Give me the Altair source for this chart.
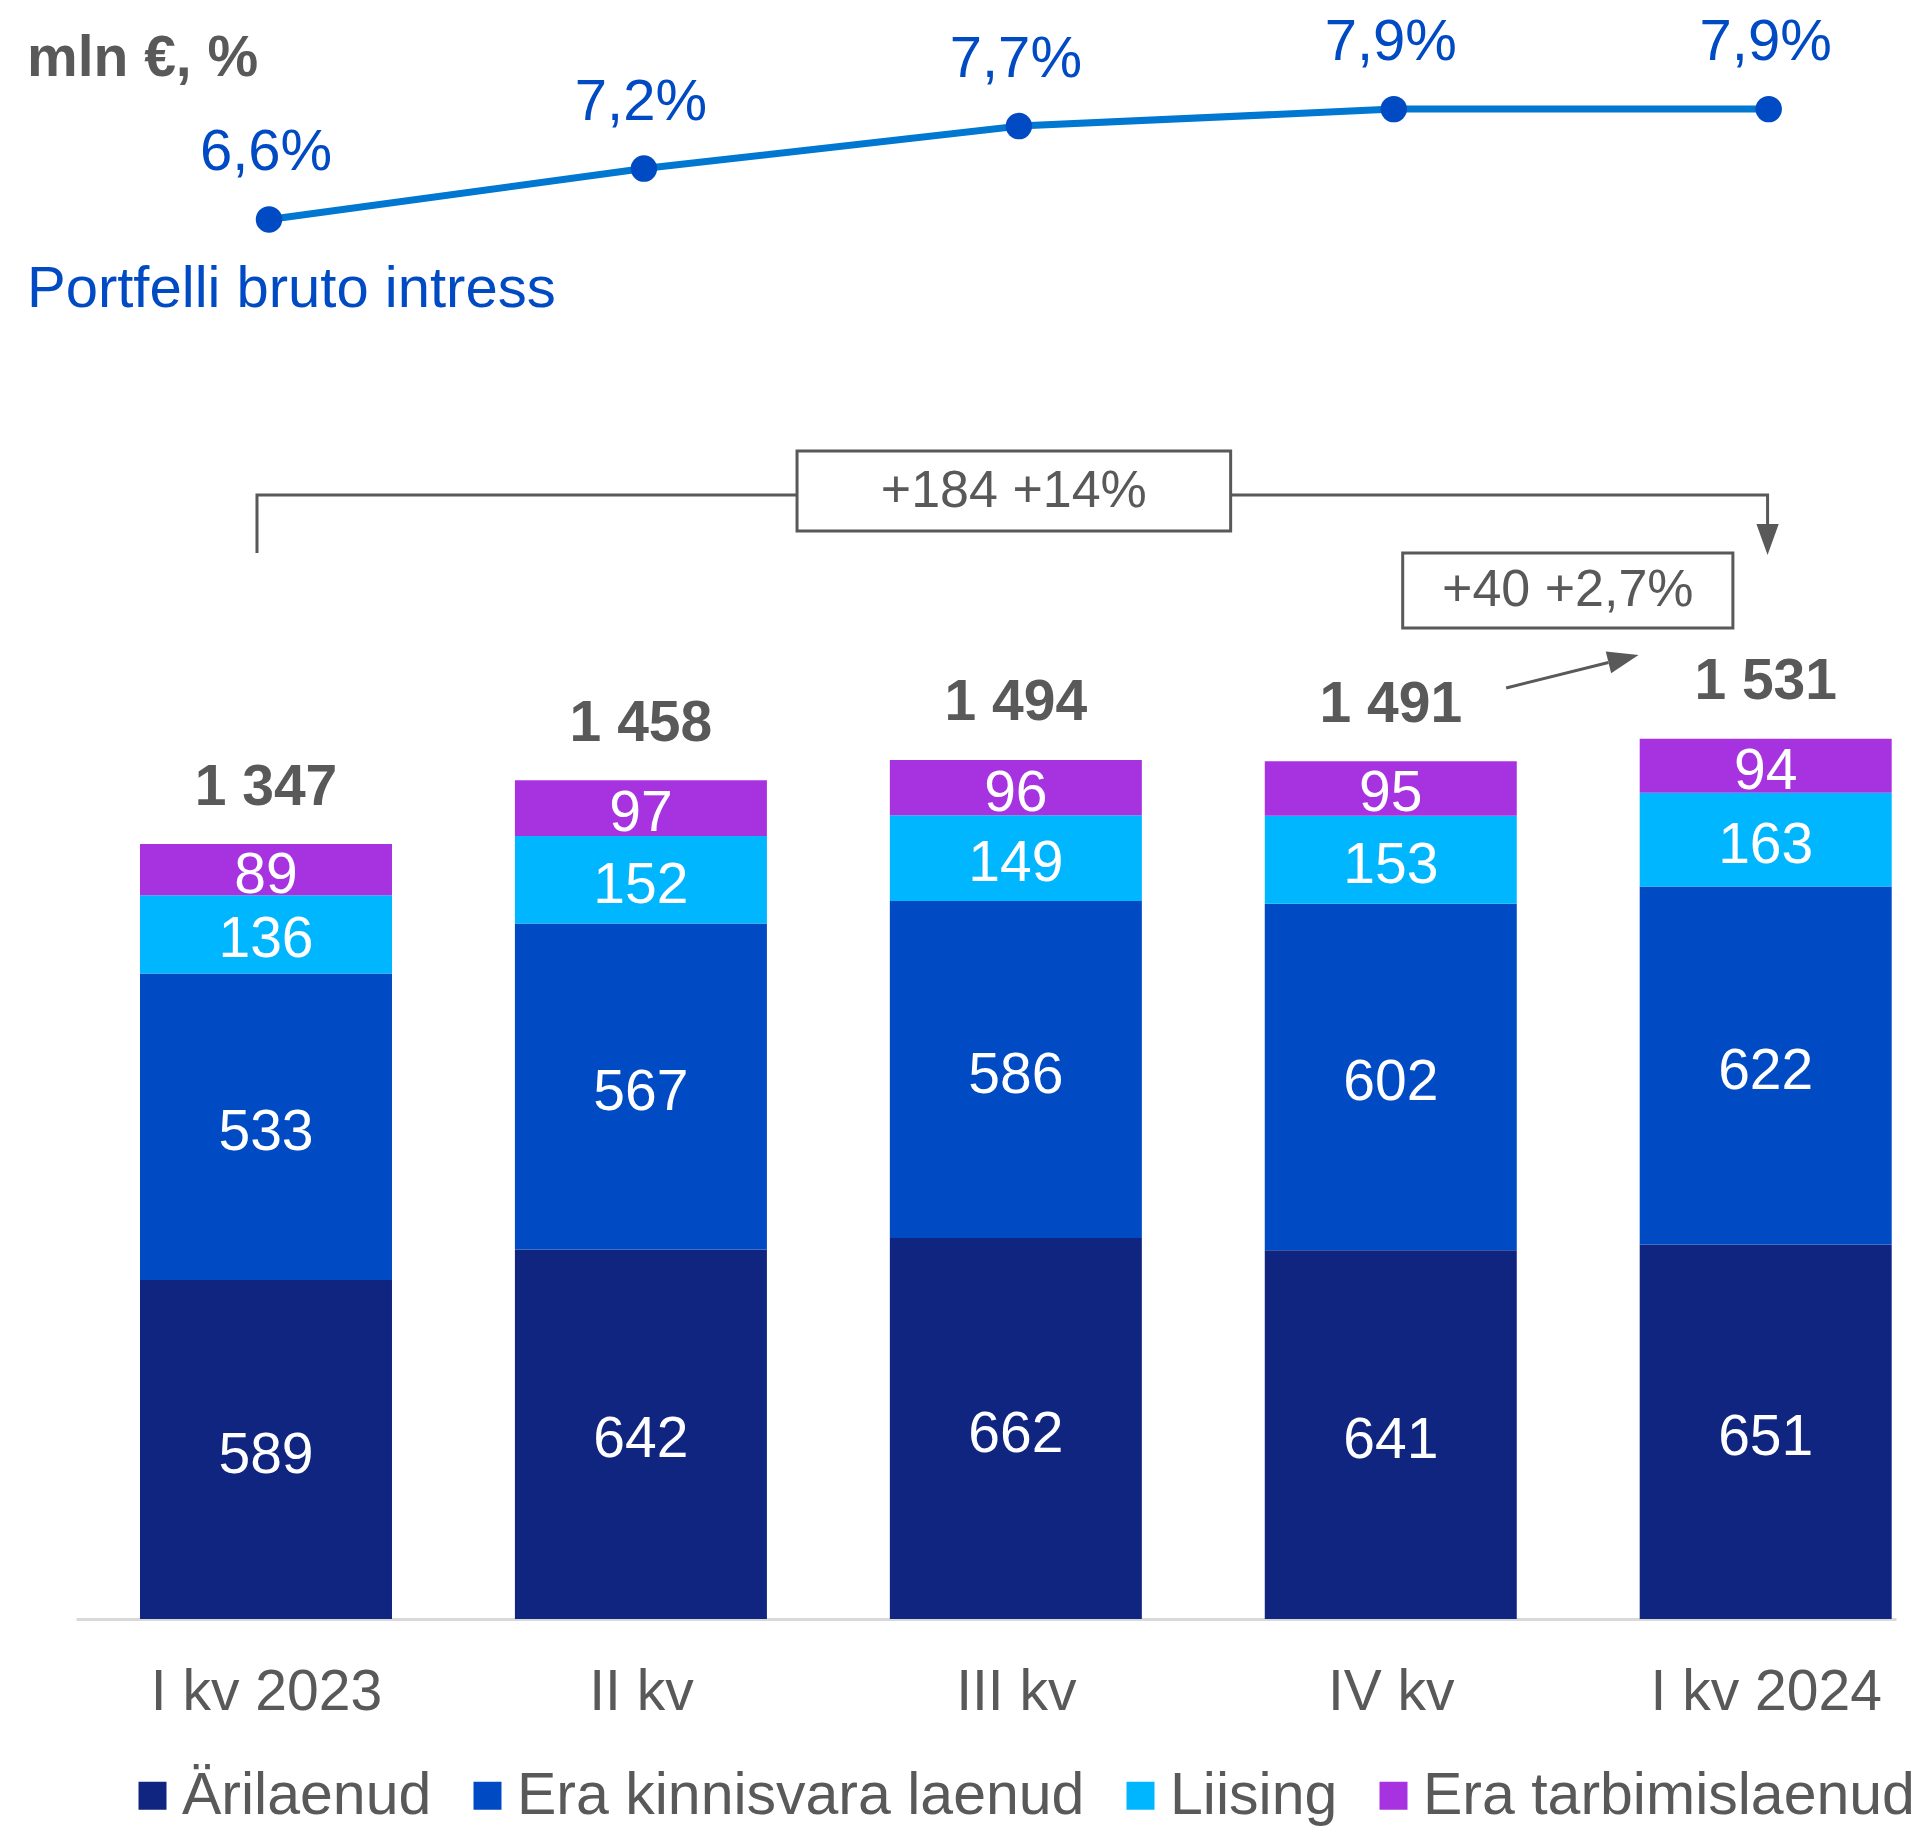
import json
import pandas as pd
import altair as alt

# ---------------- data ----------------
categories = ["I kv 2023", "II kv", "III kv", "IV kv", "I kv 2024"]
series_names = ["Ärilaenud", "Era kinnisvara laenud", "Liising", "Era tarbimislaenud"]
arilaenud = [589, 642, 662, 641, 651]
era_kinnisvara = [533, 567, 586, 602, 622]
liising = [136, 152, 149, 153, 163]
era_tarbimis = [89, 97, 96, 95, 94]
totals = [1347, 1458, 1494, 1491, 1531]
total_labels = ["1 347", "1 458", "1 494", "1 491", "1 531"]
rate = [6.6, 7.2, 7.7, 7.9, 7.9]
rate_labels = ["6,6%", "7,2%", "7,7%", "7,9%", "7,9%"]
change_labels = ["+184 +14%", "+40 +2,7%"]
unit_label = "mln €, %"
rate_series_label = "Portfelli bruto intress"

# ---------------- styles / layout ----------------
FONT = "Liberation Sans"
GRAY = "#595959"
COLORS = ["#0F2580", "#004AC4", "#00B6FF", "#A733E0"]
LINE_COLOR = "#0077D0"
DOT_COLOR = "#004AC4"
PLOT_W, PLOT_H = 1820, 1611
X_DOMAIN = [-0.4934, 4.3342]
Y_BAR_DOMAIN = [0, 2800]
Y_RATE_DOMAIN = [-9.885, 9.091]

idx = list(range(len(categories)))
series_values = [arilaenud, era_kinnisvara, liising, era_tarbimis]
rows = []
for s_i, (name, vals) in enumerate(zip(series_names, series_values)):
    for i, v in zip(idx, vals):
        rows.append({"idx": i, "category": categories[i], "series": name, "value": v, "order": s_i})
bars_df = pd.DataFrame(rows)
tot_df = pd.DataFrame({"idx": idx, "total": totals, "label": total_labels})
rate_df = pd.DataFrame({"idx": idx, "rate": rate, "label": rate_labels})

label_expr = json.dumps(categories, ensure_ascii=False) + "[datum.value]"
X = alt.X(
    "idx:Q",
    scale=alt.Scale(domain=X_DOMAIN, nice=False, zero=False),
    axis=alt.Axis(
        values=idx, labelExpr=label_expr, title=None, grid=False, ticks=False, tickSize=0,
        domainColor="#D9D9D9", domainWidth=3, labelFontSize=57, labelFont=FONT,
        labelColor=GRAY, labelPadding=45, labelBaseline="top", labelLimit=800,
        labelOverlap=False,
    ),
)
ybar_scale = alt.Scale(domain=Y_BAR_DOMAIN, nice=False, zero=True)
yrate_scale = alt.Scale(domain=Y_RATE_DOMAIN, nice=False, zero=False)

bars = alt.Chart(bars_df).mark_bar(width=252).encode(
    x=X,
    y=alt.Y("value:Q", stack="zero", scale=ybar_scale, axis=None),
    color=alt.Color(
        "series:N",
        scale=alt.Scale(domain=series_names, range=COLORS),
        legend=alt.Legend(
            orient="none", legendX=47, legendY=1758, direction="horizontal", columns=4,
            title=None, symbolType="square", symbolSize=784, symbolStrokeWidth=0,
            symbolOpacity=1, labelFontSize=59, labelFont=FONT, labelColor=GRAY,
            labelOffset=0, columnPadding=26, labelLimit=2000, padding=0,
        ),
    ),
    order=alt.Order("order:Q", sort="ascending"),
)

seg_labels = alt.Chart(bars_df).transform_stack(
    stack="value", groupby=["idx"], sort=[alt.SortField("order", order="ascending")], as_=["v0", "v1"]
).transform_calculate(mid="(datum.v0 + datum.v1) / 2").mark_text(
    font=FONT, fontSize=57, color="white", baseline="middle", align="center", dy=6
).encode(x=X, y=alt.Y("mid:Q", scale=ybar_scale, axis=None), text="value:Q")

tot_text = alt.Chart(tot_df).mark_text(
    font=FONT, fontSize=57, fontWeight="bold", color=GRAY, baseline="middle", align="center", dy=-56
).encode(x=X, y=alt.Y("total:Q", scale=ybar_scale, axis=None), text="label:N")

# ---------------- annotations (positions in data units of the scales) ----------------
bracket_df = pd.DataFrame({
    "idx": [-0.024, -0.024, 4.005, 4.005],
    "y": [1852.8, 1953.6, 1953.6, 1903.2],
    "o": [0, 1, 2, 3],
})
bracket = alt.Chart(bracket_df).mark_line(color=GRAY, strokeWidth=3, strokeJoin="miter").encode(
    x=X, y=alt.Y("y:Q", scale=ybar_scale, axis=None), order="o:Q"
)
diag_df = pd.DataFrame({"idx": [3.3077], "idx2": [3.5806], "y": [1618.1], "y2": [1662.4]})
diag = alt.Chart(diag_df).mark_rule(color=GRAY, strokeWidth=3).encode(
    x=X, x2="idx2:Q", y=alt.Y("y:Q", scale=ybar_scale, axis=None), y2="y2:Q"
)
heads_df = pd.DataFrame({"idx": [4.005, 3.6207], "y": [1876.2, 1669.0], "ang": [0, 256.1]})
heads = alt.Chart(heads_df).mark_point(
    shape="M-0.72,-1 L0.72,-1 L0,1 Z", size=961, filled=True, color=GRAY, opacity=1, strokeWidth=0
).encode(x=X, y=alt.Y("y:Q", scale=ybar_scale, axis=None), angle=alt.Angle("ang:Q", scale=None))

box_df = pd.DataFrame({
    "idx": [1.4164, 3.0318], "idx2": [2.5729, 3.9125],
    "y": [1891.0, 1722.4], "y2": [2030.0, 1852.8],
    "label": change_labels,
})
boxes = alt.Chart(box_df).mark_rect(fill="white", stroke=GRAY, strokeWidth=3).encode(
    x=X, x2="idx2:Q", y=alt.Y("y:Q", scale=ybar_scale, axis=None), y2="y2:Q"
)
box_text = alt.Chart(box_df).transform_calculate(
    cy="(datum.y + datum.y2) / 2"
).transform_calculate(
    idx="(datum.idx + datum.idx2) / 2"
).mark_text(font=FONT, fontSize=52, color=GRAY, baseline="middle", align="center").encode(
    x=X, y=alt.Y("cy:Q", scale=ybar_scale, axis=None), text="label:N",
)

bar_group = alt.layer(bars, seg_labels, tot_text, bracket, diag, heads, boxes, box_text)

# ---------------- rate line ----------------
line = alt.Chart(rate_df).mark_line(color=LINE_COLOR, strokeWidth=7, xOffset=3).encode(
    x=X, y=alt.Y("rate:Q", scale=yrate_scale, axis=None)
)
dots = alt.Chart(rate_df).mark_circle(color=DOT_COLOR, size=700, opacity=1, xOffset=3).encode(
    x=X, y=alt.Y("rate:Q", scale=yrate_scale, axis=None)
)
rate_text = alt.Chart(rate_df).mark_text(
    font=FONT, fontSize=58, color=DOT_COLOR, baseline="middle", align="center", dy=-66
).encode(x=X, y=alt.Y("rate:Q", scale=yrate_scale, axis=None), text="label:N")
rate_group = alt.layer(line, dots, rate_text)

# ---------------- static labels ----------------
lab_df = pd.DataFrame({"t": [unit_label]})
unit_text = alt.Chart(lab_df).mark_text(
    font=FONT, fontSize=57, fontWeight="bold", color=GRAY, align="left", baseline="alphabetic"
).encode(x=alt.value(-49), y=alt.value(68), text="t:N")
ser_df = pd.DataFrame({"t": [rate_series_label]})
ser_text = alt.Chart(ser_df).mark_text(
    font=FONT, fontSize=58, color=DOT_COLOR, align="left", baseline="alphabetic"
).encode(x=alt.value(-49), y=alt.value(299), text="t:N")

chart = alt.layer(bar_group, rate_group, unit_text, ser_text).resolve_scale(
    y="independent"
).properties(
    width=PLOT_W, height=PLOT_H,
    autosize=alt.AutoSizeParams(type="none"),
    padding={"left": 68, "top": 0, "right": 20, "bottom": 207},
    background="white",
).configure(font=FONT, view=alt.ViewConfig(stroke=None))

chart.save("out.html", embed_options={"renderer": "svg", "actions": False})
